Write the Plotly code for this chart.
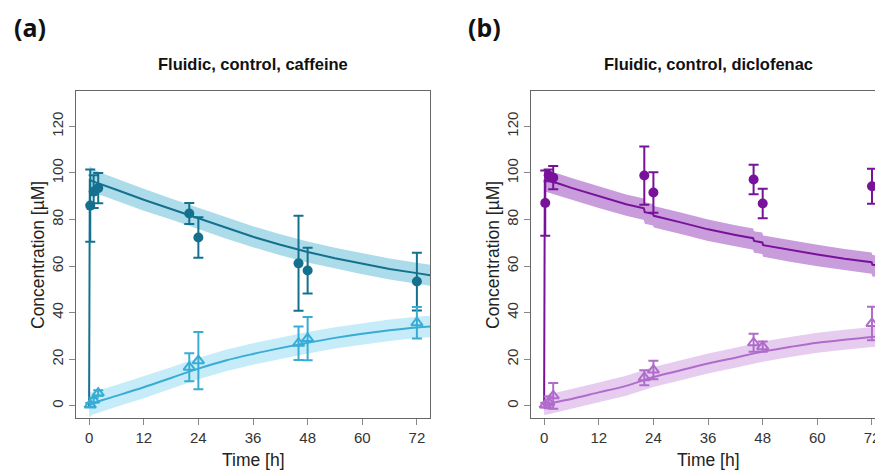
import plotly.graph_objects as go

# ---------------- data ----------------
obs_time = [0.25, 1, 2, 22, 24, 46, 48, 72]

# panel (a) caffeine
caf_mean = [86.0, 92.0, 93.5, 82.6, 72.3, 61.2, 58.1, 53.4]
caf_sd = [15.5, 7.0, 6.5, 4.5, 8.7, 20.4, 9.8, 12.4]
caf_met_mean = [0.4, 2.5, 5.5, 16.6, 19.4, 26.9, 28.9, 35.7]
caf_met_sd = [0.8, 1.0, 1.2, 6.0, 12.3, 7.2, 9.3, 6.8]

caf_model_t = [0, 0.15, 1, 3, 6, 12, 18, 24, 30, 36, 42, 48, 54, 60, 66, 72, 75]
caf_model = [0, 97.0, 96.3, 95.0, 92.8, 88.5, 84.5, 80.5, 76.4, 72.6, 69.2, 66.1, 63.4, 61.0, 58.8, 57.0, 56.1]
caf_band_t = [0.15, 1, 3, 6, 12, 18, 24, 30, 36, 42, 48, 54, 60, 66, 72, 75]
caf_band_hi = [103.0, 101.5, 99.8, 97.5, 93.2, 89.0, 85.0, 80.9, 77.1, 73.7, 70.6, 67.9, 65.5, 63.3, 61.5, 60.6]
caf_band_lo = [91.5, 91.2, 90.2, 88.1, 83.8, 80.0, 76.0, 71.9, 68.1, 64.7, 61.6, 58.9, 56.5, 54.3, 52.5, 51.6]

caf_met_t = [0, 1, 3, 6, 12, 18, 24, 30, 36, 42, 48, 54, 60, 66, 72, 75]
caf_met_model = [0.3, 1.2, 2.5, 4.3, 8.0, 12.0, 16.0, 19.5, 22.3, 24.8, 27.1, 29.2, 31.0, 32.5, 33.7, 34.1]
caf_met_hi = [5.5, 6.0, 7.2, 9.0, 12.7, 16.6, 20.6, 24.1, 26.9, 29.4, 31.7, 33.8, 35.6, 37.1, 38.3, 38.7]
caf_met_lo = [-4.8, -3.6, -2.2, -0.4, 3.3, 7.4, 11.4, 14.9, 17.7, 20.2, 22.5, 24.6, 26.4, 27.9, 29.1, 29.5]

# panel (b) diclofenac
dic_mean = [87.1, 99.0, 98.0, 98.9, 91.6, 97.2, 86.9, 94.3]
dic_sd = [14.0, 2.5, 5.0, 12.5, 8.7, 6.3, 6.3, 7.5]
dic_met_mean = [0.4, 1.5, 4.3, 12.1, 15.4, 27.1, 25.4, 35.4]
dic_met_sd = [1.0, 2.5, 5.5, 3.2, 4.0, 3.9, 2.2, 7.2]

dic_model_t = [0, 0.15, 1, 3, 6, 12, 18, 21.9, 22.1, 23.9, 24.1, 30, 36, 42, 45.9, 46.1, 47.9, 48.1, 54, 60, 66, 71.9, 72.1, 73]
dic_model = [0, 97.0, 96.5, 95.6, 93.6, 90.0, 86.6, 84.8, 83.2, 82.5, 81.6, 78.8, 75.8, 73.4, 72.0, 70.8, 70.2, 69.0, 66.9, 65.0, 63.2, 61.7, 60.6, 60.4]
dic_band_t = [0.15, 1, 3, 6, 12, 18, 21.9, 22.1, 23.9, 24.1, 30, 36, 42, 45.9, 46.1, 47.9, 48.1, 54, 60, 66, 71.9, 72.1, 73]
dic_band_hi = [101.0, 100.6, 99.8, 97.8, 94.2, 90.8, 89.0, 87.4, 86.7, 85.8, 83.0, 80.0, 77.6, 76.2, 75.0, 74.4, 73.2, 71.1, 69.2, 67.4, 65.9, 64.8, 64.6]
dic_band_lo = [92.0, 91.5, 90.6, 88.6, 85.0, 81.6, 79.8, 78.2, 77.5, 76.6, 73.8, 70.8, 68.4, 67.0, 65.8, 65.2, 64.0, 61.9, 60.0, 58.2, 56.7, 55.6, 55.4]

dic_met_t = [0, 1, 3, 6, 12, 18, 24, 30, 36, 42, 48, 54, 60, 66, 72, 73]
dic_met_model = [0.2, 0.9, 1.8, 3.0, 5.8, 8.6, 12.4, 15.3, 18.2, 20.7, 23.3, 25.3, 27.1, 28.4, 29.6, 29.7]
dic_met_hi = [4.3, 5.0, 5.9, 7.2, 10.0, 12.9, 16.7, 19.6, 22.5, 25.0, 27.6, 29.6, 31.4, 32.7, 33.9, 34.0]
dic_met_lo = [-4.0, -3.3, -2.4, -1.2, 1.6, 4.3, 8.1, 11.0, 13.9, 16.4, 19.0, 21.0, 22.8, 24.1, 25.3, 25.4]

x_ticks = [0, 12, 24, 36, 48, 60, 72]
y_ticks = [0, 20, 40, 60, 80, 100, 120]
titles = ["Fluidic, control, caffeine", "Fluidic, control, diclofenac"]
panel_labels = ["(a)", "(b)"]

# ---------------- styling ----------------
W, H = 875, 470
FONT = "Liberation Sans, Arial, sans-serif"
caf_dark, caf_light = "#14718e", "#38acd4"
caf_band1, caf_band2 = "#acdbea", "#c5ecf8"
dic_dark, dic_light = "#78129a", "#b06ccb"
dic_band1, dic_band2 = "#c99cdc", "#e6cdf0"

fig = go.Figure()


def band(t, lo, hi, color, xa, ya):
    fig.add_trace(go.Scatter(x=list(t) + list(t)[::-1], y=list(hi) + list(lo)[::-1],
                             fill="toself", fillcolor=color, line=dict(width=0),
                             mode="lines", hoverinfo="skip", showlegend=False,
                             xaxis=xa, yaxis=ya))


def line(t, y, color, xa, ya, shape="linear"):
    fig.add_trace(go.Scatter(x=t, y=y, mode="lines",
                             line=dict(color=color, width=2, shape=shape),
                             showlegend=False, xaxis=xa, yaxis=ya))


def pts(t, y, sd, color, symbol, xa, ya):
    open_m = "open" in symbol
    fig.add_trace(go.Scatter(
        x=t, y=y, mode="markers",
        marker=dict(symbol=symbol, size=10, color=color,
                    line=dict(color=color, width=2 if open_m else 0)),
        error_y=dict(type="data", array=sd, visible=True, color=color, thickness=2, width=5),
        showlegend=False, xaxis=xa, yaxis=ya))


# panel a
band(caf_band_t, caf_band_lo, caf_band_hi, caf_band1, "x", "y")
band(caf_met_t, caf_met_lo, caf_met_hi, caf_band2, "x", "y")
line(caf_model_t, caf_model, caf_dark, "x", "y")
line(caf_met_t, caf_met_model, caf_light, "x", "y", "spline")
pts(obs_time, caf_mean, caf_sd, caf_dark, "circle", "x", "y")
pts(obs_time, caf_met_mean, caf_met_sd, caf_light, "triangle-up-open", "x", "y")

# panel b
band(dic_band_t, dic_band_lo, dic_band_hi, dic_band1, "x2", "y2")
band(dic_met_t, dic_met_lo, dic_met_hi, dic_band2, "x2", "y2")
line(dic_model_t, dic_model, dic_dark, "x2", "y2")
line(dic_met_t, dic_met_model, dic_light, "x2", "y2", "spline")
pts(obs_time, dic_mean, dic_sd, dic_dark, "circle", "x2", "y2")
pts(obs_time, dic_met_mean, dic_met_sd, dic_light, "triangle-up-open", "x2", "y2")


# geometry in window pixels -> figure fractions
def fx(px):
    return px / W


def fy(py):
    return 1 - py / H


a_left, a_right = 76, 430
b_left = 531
top, bottom = 91, 418
yd = [fy(bottom), fy(top)]

axis_common = dict(showgrid=False, zeroline=False, showline=True, linecolor="#666666",
                   linewidth=1, ticks="outside", ticklen=6, tickcolor="#888888",
                   automargin=False, ticklabeloverflow="allow",
                   tickfont=dict(family=FONT, size=15, color="#333333"))

fig.update_layout(
    template="none",
    width=W, height=H, margin=dict(l=0, r=0, t=0, b=0, pad=0),
    paper_bgcolor="white", plot_bgcolor="white", showlegend=False,
    xaxis=dict(domain=[fx(a_left), fx(a_right)], range=[-2.88, 74.88],
               tickvals=x_ticks, mirror=True, anchor="y", **axis_common),
    yaxis=dict(domain=yd, range=[-5.2, 135.2], tickvals=y_ticks, tickangle=-90,
               mirror=True, anchor="x", **axis_common),
    xaxis2=dict(domain=[fx(b_left), 1.0], range=[-2.88, 72.66],
                tickvals=x_ticks, mirror=True, anchor="y2", **axis_common),
    yaxis2=dict(domain=yd, range=[-5.2, 135.2], tickvals=y_ticks, tickangle=-90,
                mirror=False, anchor="x2", **axis_common),
)

ann = []
centers = [(a_left + a_right) / 2, b_left + (a_right - a_left) / 2]
ylab_x = [38, 493]
for i in range(2):
    ann.append(dict(text="<b>%s</b>" % titles[i], x=fx(centers[i]), y=fy(64),
                    xanchor="center", yanchor="middle",
                    xref="paper", yref="paper", showarrow=False,
                    font=dict(family=FONT, size=16.5, color="#111111")))
    ann.append(dict(text="Time [h]", x=fx(centers[i]), y=fy(460),
                    xanchor="center", yanchor="middle",
                    xref="paper", yref="paper", showarrow=False,
                    font=dict(family=FONT, size=17.5, color="#222222")))
    ann.append(dict(text="Concentration [µM]", x=fx(ylab_x[i]), y=fy(255),
                    xanchor="center", yanchor="middle",
                    xref="paper", yref="paper", showarrow=False, textangle=-90,
                    font=dict(family=FONT, size=17.5, color="#222222")))
for lab, lx in zip(panel_labels, [12, 466]):
    ann.append(dict(text="<b>%s</b>" % lab, x=fx(lx), y=fy(27),
                    xanchor="left", yanchor="middle",
                    xref="paper", yref="paper", showarrow=False,
                    font=dict(family="Noto Sans, Open Sans, sans-serif", size=25, color="#111111")))
fig.update_layout(annotations=ann)

# remove the browser's default 8px page margin so the figure fills the window
fig.write_html("out.html", config={"displayModeBar": False},
               post_script="document.body.style.margin='0';document.body.style.overflow='hidden';")
